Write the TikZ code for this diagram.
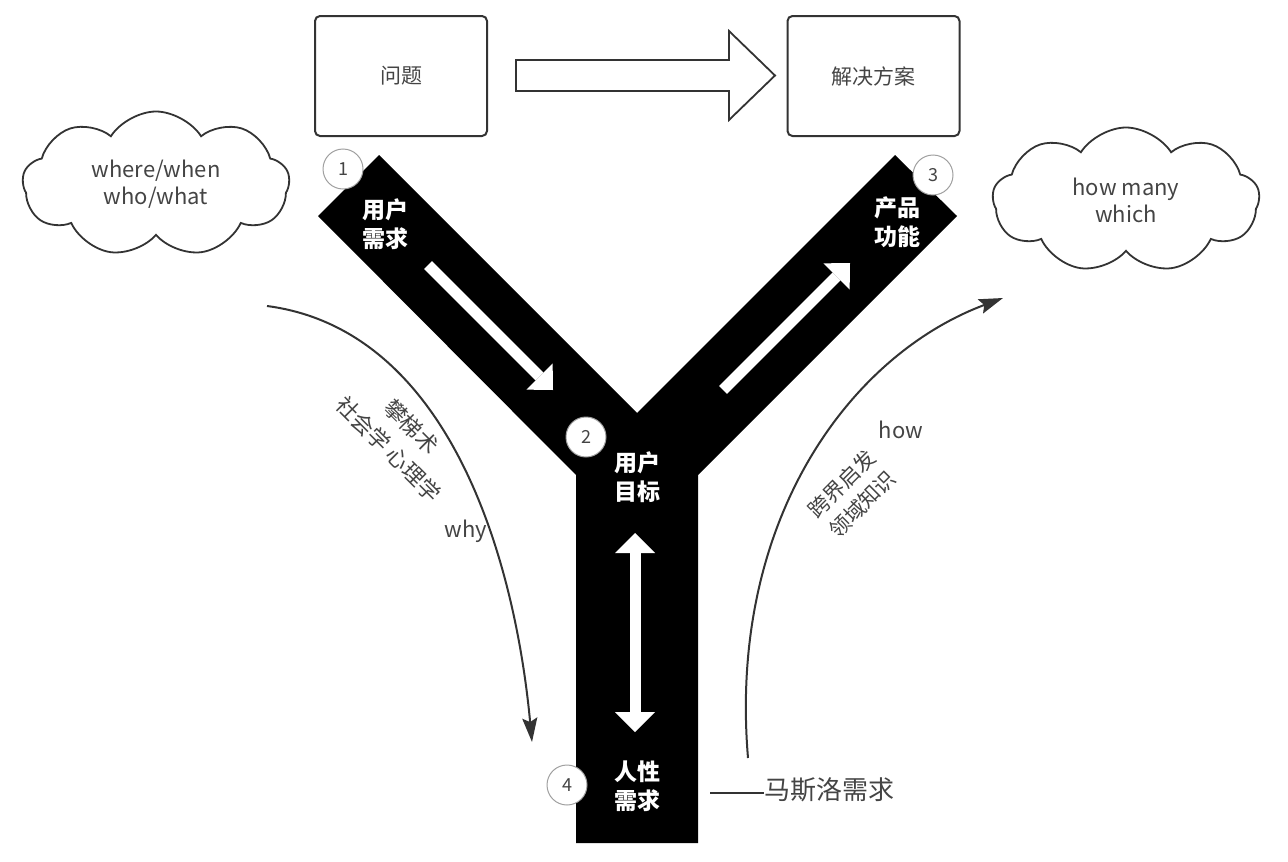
\documentclass[tikz,border=0pt]{standalone}
\usepackage{fontspec}
\setmainfont{Noto Sans CJK SC}
\usetikzlibrary{arrows.meta,shapes.symbols}
\definecolor{ink}{HTML}{333333}
\definecolor{textgray}{HTML}{444444}
\definecolor{ringgray}{HTML}{A0A0A0}
\tikzset{>=Stealth,
  box/.style={draw=ink, line width=2pt, rounded corners=5pt,
    minimum width=172pt, minimum height=120pt,
    font=\fontsize{21}{24}\selectfont, text=textgray},
  puff/.style={cloud, cloud puffs=9, cloud puff arc=115, draw=ink,
    cloud ignores aspect, line width=1.8pt,
    minimum width=267pt, minimum height=145pt, align=center,
    font=\fontsize{22}{27}\selectfont, text=textgray},
  armtext/.style={align=center, text=white,
    font=\bfseries\fontsize{23}{29}\selectfont},
  num/.style={circle, draw=ringgray, line width=1pt, fill=white,
    minimum size=40pt, inner sep=0pt,
    font=\fontsize{18}{20}\selectfont, text=textgray},
  lbl/.style={align=center, text=textgray,
    font=\fontsize{22}{32}\selectfont},
  whitearrow/.style={white, line width=11pt,
    -{Triangle[length=19pt,width=37pt,line width=0pt]}},
  flow/.style={draw=ink, line width=2pt,
    -{Stealth[length=24pt,width=15pt,inset=4pt]}}}
\begin{document}
\begin{tikzpicture}[x=1pt, y=-1pt]
\useasboundingbox (0,0) rectangle (1288,862);
% the Y
\fill (318,216) -- (379,155) -- (637,413) -- (895,155) -- (957,216) --
  (698,475) -- (698,843) -- (576,843) -- (576,475) -- cycle;
\coordinate (a1) at (428,265);
\coordinate (b1) at (553,390);
\coordinate (a2) at (723,390);
\coordinate (b2) at (850,263);
\coordinate (a3) at (635,533);
\coordinate (b3) at (635,732);
\draw[whitearrow] (a1) -- (b1);
\draw[whitearrow] (a2) -- (b2);
\draw[white, line width=11pt,
  {Triangle[length=20pt,width=40pt,line width=0pt]}-{Triangle[length=20pt,width=40pt,line width=0pt]}]
  (a3) -- (b3);
\node[armtext] (need) at (385,224) {用户\\需求};
\node[armtext] (goal) at (637,477) {用户\\目标};
\node[armtext] (func) at (897,222) {产品\\功能};
\node[armtext] (human) at (637,786) {人性\\需求};
\node[num] (n1) at (343,169) {1};
\node[num] (n2) at (586,437) {2};
\node[num] (n3) at (933,175) {3};
\node[num] (n4) at (567,785) {4};
% top row
\node[box] (problem) at (401,76) {问题};
\node[box] (solution) at (873.5,76) {解决方案};
\draw[ink, line width=1.8pt] (516,60) -- (729,60) -- (729,31) --
  (775,75.5) -- (729,120) -- (729,91) -- (516,91) -- cycle;
\node[puff] (where) at (156,184) {where/when\\who/what};
\node[puff] (howmany) at (1126,200) {how many\\which};
% side curves
\coordinate (whyfrom) at (267,306);
\coordinate (whyto) at (532,742);
\draw[flow] (whyfrom) .. controls (450,330) and (515,560) .. (whyto);
\coordinate (howfrom) at (748,758);
\coordinate (howto) at (1003,298);
\draw[flow] (howfrom) .. controls (728,520) and (850,355) .. (howto);
\node[lbl] (why) at (466,531) {why};
\node[lbl] (how) at (901,430) {how};
\node[lbl, rotate=-45] (ladder) at (400,438) {攀梯术\\社会学 心理学};
\node[lbl, rotate=45, font=\fontsize{21}{29}\selectfont] (cross) at (852,494) {跨界启发\\领域知识};
\node[lbl, anchor=west, inner sep=0pt, font=\fontsize{26}{30}\selectfont] (maslow) at (764,790) {马斯洛需求};
\coordinate (dashend) at (710,793);
\draw[ink, line width=1.2pt] (dashend) -- (dashend -| maslow.west);
\end{tikzpicture}
\end{document}
